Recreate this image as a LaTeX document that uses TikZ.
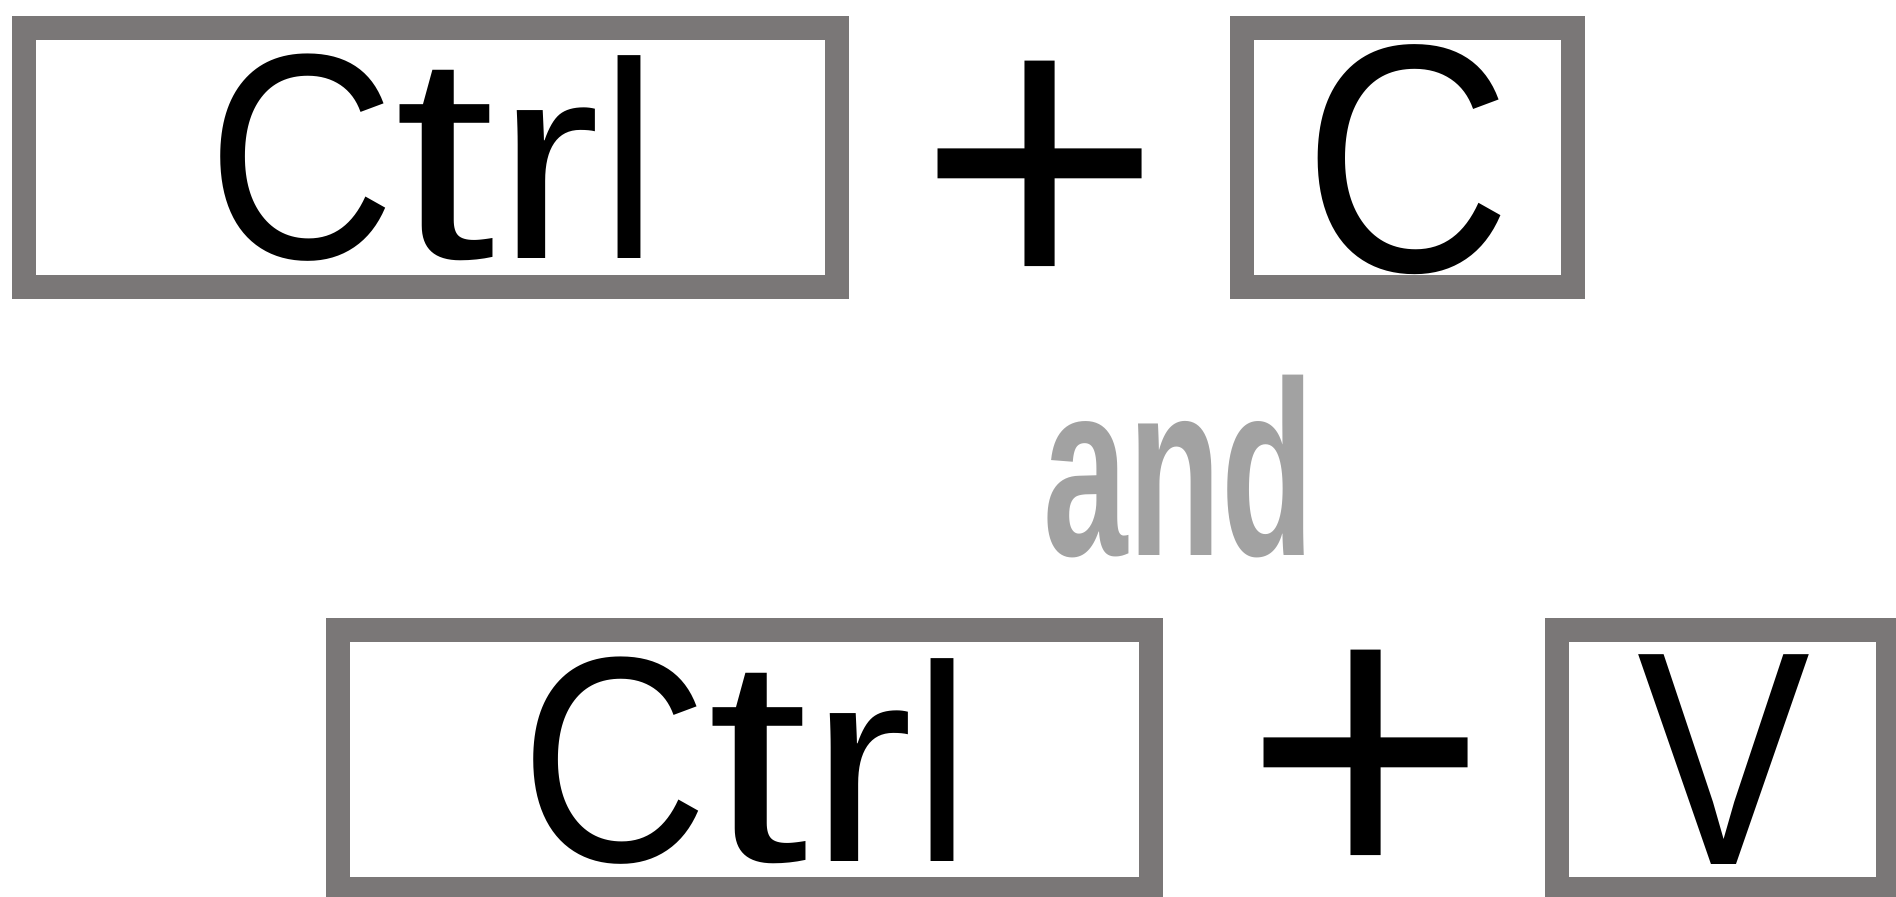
\documentclass[tikz,border=0pt]{standalone}
\usepackage{graphicx}
\usepackage{fontspec}
\setmainfont{Liberation Sans}
\definecolor{keygray}{HTML}{7A7777}
\definecolor{andgray}{HTML}{A2A2A2}
\newcommand{\ctrlglyphs}{\scalebox{0.889}[1]{\fontsize{293}{300}\selectfont C}\kern-2pt\scalebox{1.3}[1.04]{t}\kern1pt\scalebox{1.116}[1]{r}\scalebox{0.93}[1]{l}}
\begin{document}
\begin{tikzpicture}[x=1pt,y=-1pt,
  keybox/.style={draw=keygray, line width=24pt, fill=white, rectangle, inner sep=0pt, outer sep=0pt},
  keytext/.style={anchor=base, inner sep=0pt, font=\fontsize{280}{300}\selectfont},
  plustext/.style={anchor=base, inner sep=0pt, font=\fontsize{420}{440}\selectfont},
  andtext/.style={anchor=base, inner sep=0pt, xscale=0.61, text=andgray, font=\bfseries\fontsize{249}{260}\selectfont}]
\useasboundingbox (0,0) rectangle (1896,897);
\clip (0,0) rectangle (1896,897);
% top row
\node[keybox, minimum width=813pt, minimum height=259pt] (ctrlA) at (430.5,157.5) {};
\node[keybox, minimum width=331pt, minimum height=259pt] (keyC) at (1407.5,157.5) {};
\node[keytext] (ctrlAtext) at (433,258) {\ctrlglyphs};
\node[keytext, xscale=0.888, font=\fontsize{325}{340}\selectfont] (keyCtext) at (1408,271) {C};
\node[plustext] (plusA) at (1040,303) {+};
% and
\node[andtext] (and) at (1179,555) {and};
% bottom row
\node[keybox, minimum width=813pt, minimum height=259pt] (ctrlB) at (744.5,759.5) {};
\node[keybox, minimum width=331pt, minimum height=259pt] (keyV) at (1722.5,759.5) {};
\node[keytext] (ctrlBtext) at (746,861) {\ctrlglyphs};
\node[keytext, xscale=0.85, font=\fontsize{305}{320}\selectfont] (keyVtext) at (1724,864) {V};
\node[plustext] (plusB) at (1366,892) {+};
\end{tikzpicture}
\end{document}
